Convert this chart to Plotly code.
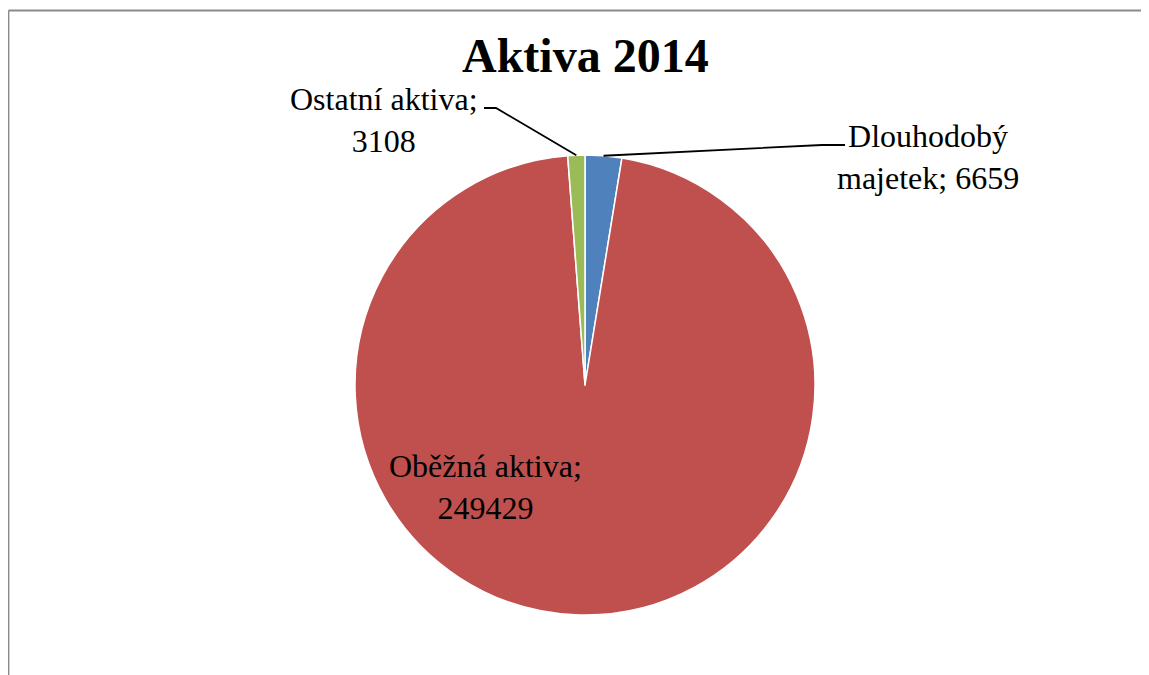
import math
import plotly.graph_objects as go

# ---- data ----
categories = ["Dlouhodobý majetek", "Oběžná aktiva", "Ostatní aktiva"]
values = [6659, 249429, 3108]
colors = ["#4F81BD", "#C0504D", "#9BBB59"]
title_text = "Aktiva 2014"

OFF = 8  # default page body margin
W, H = 1149 - OFF, 675 - OFF
CX, CY, R = 585, 385, 230  # pie centre / radius in screen pixels

def px(x):
    return (x - OFF) / W

def py(y):
    return 1 - (y - OFF) / H

fig = go.Figure(go.Pie(
    labels=categories,
    values=values,
    marker=dict(colors=colors, line=dict(color="white", width=1.5)),
    sort=False,
    direction="clockwise",
    rotation=0,
    textinfo="none",
    hoverinfo="label+value",
    showlegend=False,
    domain=dict(x=[px(CX - R), px(CX + R)], y=[py(CY + R), py(CY - R)]),
))

# slice mid-angle edge points (computed from data)
total = sum(values)
cum = 0
edge = []
for v in values:
    mid = (cum + v / 2) / total * 2 * math.pi
    edge.append((CX + R * math.sin(mid), CY - R * math.cos(mid)))
    cum += v

font = dict(family="Liberation Serif, Times New Roman, serif", size=32, color="black")

ann = []
# title
ann.append(dict(text=f"<b>{title_text}</b>", x=px(585), y=py(56), xref="paper", yref="paper",
                xanchor="center", yanchor="middle", showarrow=False,
                font=dict(family="Liberation Serif, Times New Roman, serif", size=48, color="black")))
# Dlouhodobý majetek
w1, w2 = categories[0].split(" ")
ann.append(dict(text=f"{w1}<br>{w2}; {values[0]}", x=px(928), y=py(157), xref="paper", yref="paper",
                xanchor="center", yanchor="middle", showarrow=False, font=font, align="center"))
# Oběžná aktiva
ann.append(dict(text=f"{categories[1]};<br>{values[1]}", x=px(485), y=py(487), xref="paper", yref="paper",
                xanchor="center", yanchor="middle", showarrow=False, font=font, align="center"))
# Ostatní aktiva
ann.append(dict(text=f"{categories[2]};<br>{values[2]}", x=px(384), y=py(120), xref="paper", yref="paper",
                xanchor="center", yanchor="middle", showarrow=False, font=font, align="center"))

shapes = []
# chart border (only top & left visible)
shapes.append(dict(type="line", xref="paper", yref="paper",
                   x0=px(8.5), x1=px(1160), y0=py(10.5), y1=py(10.5),
                   line=dict(color="#8a8a8a", width=1.8), layer="below"))
shapes.append(dict(type="line", xref="paper", yref="paper",
                   x0=px(8.5), x1=px(8.5), y0=py(10.5), y1=py(690),
                   line=dict(color="#8a8a8a", width=1.8), layer="below"))
# leader lines
ex, ey = edge[0]
shapes.append(dict(type="path", xref="paper", yref="paper",
                   path=f"M {px(ex)},{py(ey)} L {px(822)},{py(145)} L {px(845)},{py(145)}",
                   line=dict(color="black", width=1.8)))
ex, ey = edge[2]
shapes.append(dict(type="path", xref="paper", yref="paper",
                   path=f"M {px(ex)},{py(ey)} L {px(496)},{py(108)} L {px(484)},{py(108)}",
                   line=dict(color="black", width=1.8)))

fig.update_layout(
    width=W, height=H,
    margin=dict(l=0, r=0, t=0, b=0),
    paper_bgcolor="white", plot_bgcolor="white",
    annotations=ann, shapes=shapes,
)

fig.write_html("out.html")
